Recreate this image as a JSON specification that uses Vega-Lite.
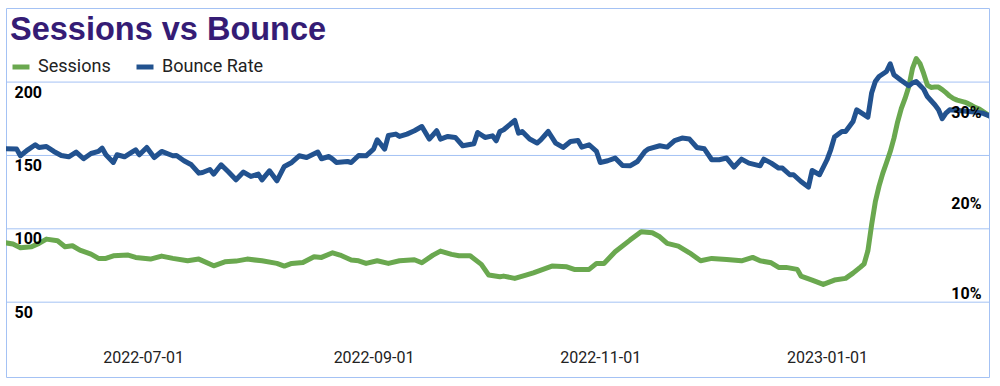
{
  "$schema": "https://vega.github.io/schema/vega-lite/v6.json",
  "width": 983,
  "height": 369,
  "autosize": {"type": "none"},
  "padding": {"left": 6, "top": 8, "right": 11, "bottom": 9},
  "background": "white",
  "config": {
    "view": {"stroke": "#a4c2f4", "strokeWidth": 1},
    "font": "Roboto"
  },
  "title": {
    "text": "Sessions vs Bounce",
    "anchor": "start",
    "frame": "group",
    "offset": -38,
    "dx": 4,
    "font": "Liberation Sans",
    "fontSize": 32.5,
    "fontWeight": "bold",
    "color": "#351c75"
  },
  "datasets": {
    "grid": [{"v": 50}, {"v": 100}, {"v": 150}, {"v": 200}],
    "sessions": [
      {"date": "2022-05-25", "sessions": 90.47},
      {"date": "2022-05-27", "sessions": 89.59},
      {"date": "2022-05-29", "sessions": 87.06},
      {"date": "2022-06-01", "sessions": 87.75},
      {"date": "2022-06-03", "sessions": 90.06},
      {"date": "2022-06-05", "sessions": 92.99},
      {"date": "2022-06-08", "sessions": 91.83},
      {"date": "2022-06-10", "sessions": 87.75},
      {"date": "2022-06-12", "sessions": 88.43},
      {"date": "2022-06-14", "sessions": 85.5},
      {"date": "2022-06-17", "sessions": 82.77},
      {"date": "2022-06-19", "sessions": 79.84},
      {"date": "2022-06-21", "sessions": 79.84},
      {"date": "2022-06-23", "sessions": 81.61},
      {"date": "2022-06-27", "sessions": 82.09},
      {"date": "2022-06-29", "sessions": 80.52},
      {"date": "2022-07-03", "sessions": 79.36},
      {"date": "2022-07-06", "sessions": 81.41},
      {"date": "2022-07-09", "sessions": 79.84},
      {"date": "2022-07-13", "sessions": 78.2},
      {"date": "2022-07-16", "sessions": 79.36},
      {"date": "2022-07-20", "sessions": 74.8},
      {"date": "2022-07-23", "sessions": 77.52},
      {"date": "2022-07-26", "sessions": 78.0},
      {"date": "2022-07-29", "sessions": 79.36},
      {"date": "2022-08-02", "sessions": 78.2},
      {"date": "2022-08-06", "sessions": 76.43},
      {"date": "2022-08-08", "sessions": 74.59},
      {"date": "2022-08-10", "sessions": 76.43},
      {"date": "2022-08-13", "sessions": 77.11},
      {"date": "2022-08-16", "sessions": 80.93},
      {"date": "2022-08-18", "sessions": 80.52},
      {"date": "2022-08-21", "sessions": 83.66},
      {"date": "2022-08-23", "sessions": 82.09},
      {"date": "2022-08-26", "sessions": 78.68},
      {"date": "2022-08-28", "sessions": 78.2},
      {"date": "2022-08-30", "sessions": 76.43},
      {"date": "2022-09-02", "sessions": 78.2},
      {"date": "2022-09-05", "sessions": 76.43},
      {"date": "2022-09-08", "sessions": 78.2},
      {"date": "2022-09-12", "sessions": 78.89},
      {"date": "2022-09-14", "sessions": 76.84},
      {"date": "2022-09-17", "sessions": 82.09},
      {"date": "2022-09-19", "sessions": 84.81},
      {"date": "2022-09-22", "sessions": 82.57},
      {"date": "2022-09-24", "sessions": 81.61},
      {"date": "2022-09-27", "sessions": 81.61},
      {"date": "2022-09-30", "sessions": 75.75},
      {"date": "2022-10-02", "sessions": 68.46},
      {"date": "2022-10-05", "sessions": 67.3},
      {"date": "2022-10-06", "sessions": 67.78},
      {"date": "2022-10-09", "sessions": 66.21},
      {"date": "2022-10-12", "sessions": 68.46},
      {"date": "2022-10-14", "sessions": 70.02},
      {"date": "2022-10-19", "sessions": 74.59},
      {"date": "2022-10-23", "sessions": 74.11},
      {"date": "2022-10-25", "sessions": 72.34},
      {"date": "2022-10-29", "sessions": 72.34},
      {"date": "2022-10-31", "sessions": 76.43},
      {"date": "2022-11-02", "sessions": 76.43},
      {"date": "2022-11-05", "sessions": 84.34},
      {"date": "2022-11-09", "sessions": 92.31},
      {"date": "2022-11-12", "sessions": 97.97},
      {"date": "2022-11-15", "sessions": 97.29},
      {"date": "2022-11-17", "sessions": 94.56},
      {"date": "2022-11-19", "sessions": 90.06},
      {"date": "2022-11-22", "sessions": 88.22},
      {"date": "2022-11-25", "sessions": 83.66},
      {"date": "2022-11-28", "sessions": 78.2},
      {"date": "2022-12-01", "sessions": 79.84},
      {"date": "2022-12-05", "sessions": 79.16},
      {"date": "2022-12-09", "sessions": 78.2},
      {"date": "2022-12-12", "sessions": 80.52},
      {"date": "2022-12-14", "sessions": 78.2},
      {"date": "2022-12-17", "sessions": 76.84},
      {"date": "2022-12-19", "sessions": 73.7},
      {"date": "2022-12-21", "sessions": 73.7},
      {"date": "2022-12-24", "sessions": 72.34},
      {"date": "2022-12-25", "sessions": 67.78},
      {"date": "2022-12-28", "sessions": 65.05},
      {"date": "2022-12-31", "sessions": 62.12},
      {"date": "2023-01-03", "sessions": 65.05},
      {"date": "2023-01-06", "sessions": 66.21},
      {"date": "2023-01-08", "sessions": 69.8},
      {"date": "2023-01-09", "sessions": 71.87},
      {"date": "2023-01-10", "sessions": 73.9},
      {"date": "2023-01-11", "sessions": 76.16},
      {"date": "2023-01-12", "sessions": 85.02},
      {"date": "2023-01-13", "sessions": 102.74},
      {"date": "2023-01-14", "sessions": 118.42},
      {"date": "2023-01-15", "sessions": 129.12},
      {"date": "2023-01-16", "sessions": 137.77},
      {"date": "2023-01-17", "sessions": 145.0},
      {"date": "2023-01-18", "sessions": 152.49},
      {"date": "2023-01-19", "sessions": 161.63},
      {"date": "2023-01-20", "sessions": 172.94},
      {"date": "2023-01-21", "sessions": 182.07},
      {"date": "2023-01-22", "sessions": 188.89},
      {"date": "2023-01-23", "sessions": 196.8},
      {"date": "2023-01-24", "sessions": 209.34},
      {"date": "2023-01-25", "sessions": 216.0},
      {"date": "2023-01-26", "sessions": 212.7},
      {"date": "2023-01-27", "sessions": 205.9},
      {"date": "2023-01-28", "sessions": 197.96},
      {"date": "2023-01-29", "sessions": 196.39},
      {"date": "2023-01-30", "sessions": 196.6},
      {"date": "2023-01-31", "sessions": 196.6},
      {"date": "2023-02-01", "sessions": 194.9},
      {"date": "2023-02-02", "sessions": 192.8},
      {"date": "2023-02-03", "sessions": 190.5},
      {"date": "2023-02-04", "sessions": 188.8},
      {"date": "2023-02-05", "sessions": 187.7},
      {"date": "2023-02-06", "sessions": 187.05},
      {"date": "2023-02-07", "sessions": 186.4},
      {"date": "2023-02-08", "sessions": 185.3},
      {"date": "2023-02-09", "sessions": 184.0},
      {"date": "2023-02-10", "sessions": 182.6},
      {"date": "2023-02-11", "sessions": 181.6},
      {"date": "2023-02-12", "sessions": 179.9},
      {"date": "2023-02-13", "sessions": 178.2},
      {"date": "2023-02-14", "sessions": 176.5}
    ],
    "bounce": [
      {"date": "2022-05-25", "bounce": 0.2601},
      {"date": "2022-05-28", "bounce": 0.2598},
      {"date": "2022-05-29", "bounce": 0.2524},
      {"date": "2022-05-31", "bounce": 0.259},
      {"date": "2022-06-02", "bounce": 0.2646},
      {"date": "2022-06-03", "bounce": 0.2616},
      {"date": "2022-06-05", "bounce": 0.2627},
      {"date": "2022-06-07", "bounce": 0.2572},
      {"date": "2022-06-09", "bounce": 0.2527},
      {"date": "2022-06-11", "bounce": 0.2513},
      {"date": "2022-06-13", "bounce": 0.2565},
      {"date": "2022-06-15", "bounce": 0.2491},
      {"date": "2022-06-17", "bounce": 0.2549},
      {"date": "2022-06-19", "bounce": 0.2572},
      {"date": "2022-06-20", "bounce": 0.2609},
      {"date": "2022-06-21", "bounce": 0.2535},
      {"date": "2022-06-23", "bounce": 0.245},
      {"date": "2022-06-24", "bounce": 0.2535},
      {"date": "2022-06-26", "bounce": 0.2513},
      {"date": "2022-06-28", "bounce": 0.2565},
      {"date": "2022-06-29", "bounce": 0.259},
      {"date": "2022-06-30", "bounce": 0.2535},
      {"date": "2022-07-02", "bounce": 0.2616},
      {"date": "2022-07-04", "bounce": 0.2505},
      {"date": "2022-07-06", "bounce": 0.2572},
      {"date": "2022-07-09", "bounce": 0.2524},
      {"date": "2022-07-10", "bounce": 0.2527},
      {"date": "2022-07-12", "bounce": 0.2469},
      {"date": "2022-07-14", "bounce": 0.2424},
      {"date": "2022-07-16", "bounce": 0.2332},
      {"date": "2022-07-17", "bounce": 0.2339},
      {"date": "2022-07-19", "bounce": 0.2372},
      {"date": "2022-07-20", "bounce": 0.2321},
      {"date": "2022-07-22", "bounce": 0.2424},
      {"date": "2022-07-24", "bounce": 0.2344},
      {"date": "2022-07-26", "bounce": 0.2258},
      {"date": "2022-07-28", "bounce": 0.2344},
      {"date": "2022-07-30", "bounce": 0.2295},
      {"date": "2022-08-01", "bounce": 0.2321},
      {"date": "2022-08-02", "bounce": 0.2258},
      {"date": "2022-08-04", "bounce": 0.2358},
      {"date": "2022-08-06", "bounce": 0.2247},
      {"date": "2022-08-08", "bounce": 0.2406},
      {"date": "2022-08-10", "bounce": 0.245},
      {"date": "2022-08-12", "bounce": 0.2524},
      {"date": "2022-08-14", "bounce": 0.2505},
      {"date": "2022-08-17", "bounce": 0.2565},
      {"date": "2022-08-18", "bounce": 0.2491},
      {"date": "2022-08-20", "bounce": 0.2516},
      {"date": "2022-08-21", "bounce": 0.2487},
      {"date": "2022-08-22", "bounce": 0.245},
      {"date": "2022-08-25", "bounce": 0.2461},
      {"date": "2022-08-26", "bounce": 0.245},
      {"date": "2022-08-28", "bounce": 0.2527},
      {"date": "2022-08-30", "bounce": 0.2524},
      {"date": "2022-09-01", "bounce": 0.2598},
      {"date": "2022-09-02", "bounce": 0.2701},
      {"date": "2022-09-04", "bounce": 0.2598},
      {"date": "2022-09-05", "bounce": 0.2749},
      {"date": "2022-09-07", "bounce": 0.2764},
      {"date": "2022-09-08", "bounce": 0.2738},
      {"date": "2022-09-10", "bounce": 0.2764},
      {"date": "2022-09-12", "bounce": 0.2801},
      {"date": "2022-09-14", "bounce": 0.2848},
      {"date": "2022-09-16", "bounce": 0.2709},
      {"date": "2022-09-18", "bounce": 0.2801},
      {"date": "2022-09-19", "bounce": 0.2709},
      {"date": "2022-09-21", "bounce": 0.2738},
      {"date": "2022-09-23", "bounce": 0.2727},
      {"date": "2022-09-25", "bounce": 0.2635},
      {"date": "2022-09-28", "bounce": 0.2657},
      {"date": "2022-09-29", "bounce": 0.2782},
      {"date": "2022-10-01", "bounce": 0.2727},
      {"date": "2022-10-03", "bounce": 0.2745},
      {"date": "2022-10-04", "bounce": 0.269},
      {"date": "2022-10-05", "bounce": 0.2793},
      {"date": "2022-10-06", "bounce": 0.2812},
      {"date": "2022-10-09", "bounce": 0.2915},
      {"date": "2022-10-10", "bounce": 0.2775},
      {"date": "2022-10-11", "bounce": 0.2793},
      {"date": "2022-10-13", "bounce": 0.2709},
      {"date": "2022-10-15", "bounce": 0.2665},
      {"date": "2022-10-16", "bounce": 0.2701},
      {"date": "2022-10-18", "bounce": 0.2793},
      {"date": "2022-10-20", "bounce": 0.2665},
      {"date": "2022-10-22", "bounce": 0.2616},
      {"date": "2022-10-24", "bounce": 0.2682},
      {"date": "2022-10-26", "bounce": 0.2693},
      {"date": "2022-10-27", "bounce": 0.262},
      {"date": "2022-10-29", "bounce": 0.2646},
      {"date": "2022-10-31", "bounce": 0.2572},
      {"date": "2022-11-01", "bounce": 0.245},
      {"date": "2022-11-03", "bounce": 0.2469},
      {"date": "2022-11-05", "bounce": 0.2499},
      {"date": "2022-11-07", "bounce": 0.2417},
      {"date": "2022-11-09", "bounce": 0.2413},
      {"date": "2022-11-11", "bounce": 0.2461},
      {"date": "2022-11-13", "bounce": 0.2572},
      {"date": "2022-11-14", "bounce": 0.2601},
      {"date": "2022-11-17", "bounce": 0.2635},
      {"date": "2022-11-19", "bounce": 0.262},
      {"date": "2022-11-21", "bounce": 0.2693},
      {"date": "2022-11-23", "bounce": 0.272},
      {"date": "2022-11-25", "bounce": 0.2709},
      {"date": "2022-11-27", "bounce": 0.2616},
      {"date": "2022-11-29", "bounce": 0.2601},
      {"date": "2022-12-01", "bounce": 0.248},
      {"date": "2022-12-03", "bounce": 0.248},
      {"date": "2022-12-05", "bounce": 0.2499},
      {"date": "2022-12-07", "bounce": 0.2399},
      {"date": "2022-12-09", "bounce": 0.2487},
      {"date": "2022-12-11", "bounce": 0.2443},
      {"date": "2022-12-14", "bounce": 0.2413},
      {"date": "2022-12-15", "bounce": 0.2487},
      {"date": "2022-12-17", "bounce": 0.2443},
      {"date": "2022-12-19", "bounce": 0.2388},
      {"date": "2022-12-20", "bounce": 0.2388},
      {"date": "2022-12-22", "bounce": 0.2314},
      {"date": "2022-12-23", "bounce": 0.2314},
      {"date": "2022-12-25", "bounce": 0.2239},
      {"date": "2022-12-27", "bounce": 0.2177},
      {"date": "2022-12-28", "bounce": 0.2361},
      {"date": "2022-12-30", "bounce": 0.2314},
      {"date": "2023-01-01", "bounce": 0.248},
      {"date": "2023-01-02", "bounce": 0.259},
      {"date": "2023-01-03", "bounce": 0.2731},
      {"date": "2023-01-05", "bounce": 0.2793},
      {"date": "2023-01-06", "bounce": 0.2793},
      {"date": "2023-01-08", "bounce": 0.2904},
      {"date": "2023-01-09", "bounce": 0.3033},
      {"date": "2023-01-12", "bounce": 0.2952},
      {"date": "2023-01-13", "bounce": 0.3218},
      {"date": "2023-01-14", "bounce": 0.3347},
      {"date": "2023-01-15", "bounce": 0.3402},
      {"date": "2023-01-17", "bounce": 0.3457},
      {"date": "2023-01-18", "bounce": 0.3542},
      {"date": "2023-01-19", "bounce": 0.3421},
      {"date": "2023-01-21", "bounce": 0.3358},
      {"date": "2023-01-23", "bounce": 0.3299},
      {"date": "2023-01-24", "bounce": 0.3329},
      {"date": "2023-01-25", "bounce": 0.3347},
      {"date": "2023-01-27", "bounce": 0.3262},
      {"date": "2023-01-28", "bounce": 0.318},
      {"date": "2023-01-30", "bounce": 0.3089},
      {"date": "2023-01-31", "bounce": 0.3033},
      {"date": "2023-02-01", "bounce": 0.2934},
      {"date": "2023-02-02", "bounce": 0.2997},
      {"date": "2023-02-03", "bounce": 0.3033},
      {"date": "2023-02-06", "bounce": 0.3022},
      {"date": "2023-02-09", "bounce": 0.3011},
      {"date": "2023-02-12", "bounce": 0.2994},
      {"date": "2023-02-14", "bounce": 0.2961}
    ]
  },
  "layer": [
    {
      "layer": [
        {
          "data": {"name": "grid"},
          "mark": {"type": "rule", "color": "#a4c2f4", "strokeWidth": 1},
          "encoding": {
            "y": {
              "field": "v",
              "type": "quantitative",
              "scale": {"domain": [-1, 250.5], "nice": false, "zero": false},
              "axis": {
                "orient": "left",
                "title": null,
                "values": [50, 100, 150, 200],
                "grid": false,
                "ticks": false,
                "tickSize": 0,
                "domain": false,
                "labelAlign": "left",
                "labelBaseline": "middle",
                "labelPadding": -8,
                "labelOffset": 10,
                "labelFlush": false,
                "labelOverlap": false,
                "labelFont": "Roboto",
                "labelFontSize": 16,
                "labelFontWeight": "bold",
                "labelColor": "#000000",
                "zindex": 1
              }
            }
          }
        },
        {
          "data": {"name": "sessions"},
          "mark": {"type": "line", "strokeWidth": 5, "strokeJoin": "round", "strokeCap": "round", "clip": true},
          "encoding": {
            "x": {
              "field": "date",
              "type": "temporal",
              "scale": {
                "type": "utc",
                "nice": false,
                "domain": [
                  {"year": 2022, "month": 5, "date": 25, "hours": 3, "utc": true},
                  {"year": 2023, "month": 2, "date": 13, "hours": 14, "utc": true}
                ]
              },
              "axis": {
                "title": null,
                "values": [
                  {"year": 2022, "month": 7, "date": 1, "utc": true},
                  {"year": 2022, "month": 9, "date": 1, "utc": true},
                  {"year": 2022, "month": 11, "date": 1, "utc": true},
                  {"year": 2023, "month": 1, "date": 1, "utc": true}
                ],
                "labelExpr": "utcFormat(datum.value, '%Y-%m-%d')",
                "grid": false,
                "ticks": false,
                "tickSize": 0,
                "domain": false,
                "labelPadding": -20,
                "labelBaseline": "middle",
                "labelFlush": false,
                "labelOverlap": false,
                "labelFont": "Roboto",
                "labelFontSize": 16,
                "labelColor": "#222222"
              }
            },
            "y": {
              "field": "sessions",
              "type": "quantitative",
              "scale": {"domain": [-1, 250.5], "nice": false, "zero": false},
              "axis": {
                "orient": "left",
                "title": null,
                "values": [50, 100, 150, 200],
                "grid": false,
                "ticks": false,
                "tickSize": 0,
                "domain": false,
                "labelAlign": "left",
                "labelBaseline": "middle",
                "labelPadding": -8,
                "labelOffset": 10,
                "labelFlush": false,
                "labelOverlap": false,
                "labelFont": "Roboto",
                "labelFontSize": 16,
                "labelFontWeight": "bold",
                "labelColor": "#000000",
                "zindex": 1
              }
            },
            "color": {
              "datum": "Sessions",
              "type": "nominal",
              "scale": {"domain": ["Sessions", "Bounce Rate"], "range": ["#6aa84f", "#22528f"]},
              "legend": {
                "orient": "none",
                "legendX": 4,
                "legendY": 48,
                "direction": "horizontal",
                "title": null,
                "symbolType": "stroke",
                "symbolSize": 289,
                "symbolStrokeWidth": 5,
                "labelFont": "Roboto",
                "labelFontSize": 18,
                "labelColor": "#222222",
                "labelOffset": 6,
                "columnPadding": 15,
                "padding": 0
              }
            }
          }
        }
      ]
    },
    {
      "data": {"name": "bounce"},
      "mark": {"type": "line", "strokeWidth": 5, "strokeJoin": "round", "strokeCap": "round", "clip": true},
      "encoding": {
        "x": {
          "field": "date",
          "type": "temporal",
          "scale": {
            "type": "utc",
            "nice": false,
            "domain": [
              {"year": 2022, "month": 5, "date": 25, "hours": 3, "utc": true},
              {"year": 2023, "month": 2, "date": 13, "hours": 14, "utc": true}
            ]
          }
        },
        "y": {
          "field": "bounce",
          "type": "quantitative",
          "scale": {"domain": [0.0075, 0.416], "nice": false, "zero": false},
          "axis": {
            "orient": "right",
            "title": null,
            "values": [0.1, 0.2, 0.3],
            "format": ".0%",
            "grid": false,
            "ticks": false,
            "tickSize": 0,
            "domain": false,
            "labelAlign": "right",
            "labelBaseline": "middle",
            "labelPadding": -8,
            "labelFlush": false,
            "labelOverlap": false,
            "labelFont": "Roboto",
            "labelFontSize": 16,
            "labelFontWeight": "bold",
            "labelColor": "#000000",
            "zindex": 1
          }
        },
        "color": {"datum": "Bounce Rate", "type": "nominal"}
      }
    }
  ],
  "resolve": {"scale": {"y": "independent"}}
}
